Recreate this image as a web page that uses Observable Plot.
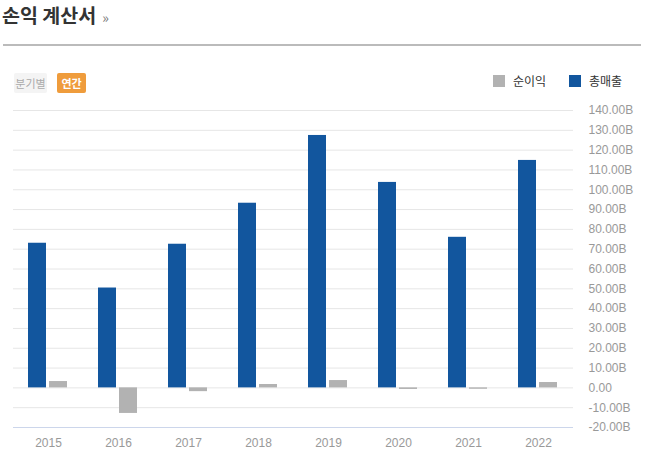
<!DOCTYPE html>
<html>
<head>
<meta charset="utf-8">
<script src="https://cdn.jsdelivr.net/npm/d3@7"></script>
<script src="https://cdn.jsdelivr.net/npm/@observablehq/plot@0.6"></script>
<style>
  html, body { margin: 0; padding: 0; background: #fff; }
  body { width: 645px; height: 461px; overflow: hidden; font-family: "Liberation Sans", "Noto Sans CJK KR", sans-serif; }
  #header { position: relative; width: 645px; height: 100px; }
  #title { position: absolute; left: 2px; top: 0px; font-family: "Noto Sans CJK KR", sans-serif; font-weight: bold; font-size: 19.5px; color: #333; white-space: nowrap; }
  #title span { font-weight: normal; font-size: 14px; color: #777; margin-left: 6px; }
  #rule { position: absolute; left: 3px; top: 44px; width: 638px; height: 2px; background: #bbb; }
  .btn { position: absolute; top: 73px; height: 20px; line-height: 20px; font-family: "Noto Sans CJK KR", sans-serif; font-size: 11px; text-align: center; border-radius: 2px; }
  #b1 { left: 14px; width: 33px; background: #f4f4f4; color: #aaa; }
  #b2 { left: 57px; width: 29px; background: #ef9c3c; color: #fff; font-weight: bold; }
  .leg { position: absolute; top: 72px; font-family: "Noto Sans CJK KR", sans-serif; font-size: 12px; color: #333; line-height: 18px; white-space: nowrap; }
  .sw { display: inline-block; width: 12px; height: 12px; vertical-align: -1px; margin-right: 8px; }
</style>
</head>
<body>
<div id="header">
  <div id="title">손익 계산서<span>»</span></div>
  <div id="rule"></div>
  <div class="btn" id="b1">분기별</div>
  <div class="btn" id="b2">연간</div>
  <div class="leg" id="l1" style="left:493px"><span class="sw" style="background:#b2b2b2"></span>순이익</div>
  <div class="leg" id="l2" style="left:569px"><span class="sw" style="background:#12569e"></span>총매출</div>
</div>
<div id="chart"></div>
<script>
const years = ["2015", "2016", "2017", "2018", "2019", "2020", "2021", "2022"];
const revenue = [73.0, 50.4, 72.5, 93.2, 127.4, 103.7, 76.0, 114.8];   // 총매출 (B)
const netIncome = [3.2, -12.9, -1.9, 1.7, 3.7, -0.8, -0.7, 2.7];      // 순이익 (B)
const yTicks = [-20, -10, 0, 10, 20, 30, 40, 50, 60, 70, 80, 90, 100, 110, 120, 130, 140];

const revData = years.map((y, i) => ({year: y, value: revenue[i]}));
const netData = years.map((y, i) => ({year: y, value: netIncome[i]}));

const fmt = d => d === 0 ? "0.00" : d.toFixed(2) + "B";

const chart = Plot.plot({
  width: 645,
  height: 361,
  marginTop: 10,
  marginBottom: 34,
  marginLeft: 13,
  marginRight: 72,
  style: {fontFamily: "'Liberation Sans', Arial, sans-serif", fontSize: "12px", background: "transparent"},
  x: {domain: years, padding: 0, label: null},
  y: {domain: [-20, 140], label: null},
  marks: [
    Plot.ruleY(yTicks.filter(t => t > -20), {stroke: "#e6e6e6", strokeWidth: 1}),
    Plot.ruleY([-20], {stroke: "#ccd6eb", strokeWidth: 1}),
    Plot.barY(revData, {x: "year", y: "value", fill: "#12569e", insetLeft: 15, insetRight: 37}),
    Plot.barY(netData, {x: "year", y: "value", fill: "#b2b2b2", insetLeft: 36, insetRight: 16}),
    Plot.axisY({anchor: "right", ticks: yTicks, tickFormat: fmt, tickSize: 0, tickPadding: 15, fill: "#999", fontSize: 12}),
    Plot.axisX({anchor: "bottom", tickSize: 0, tickPadding: 11, fill: "#999", fontSize: 12})
  ]
});
document.getElementById("chart").appendChild(chart);
</script>
</body>
</html>
